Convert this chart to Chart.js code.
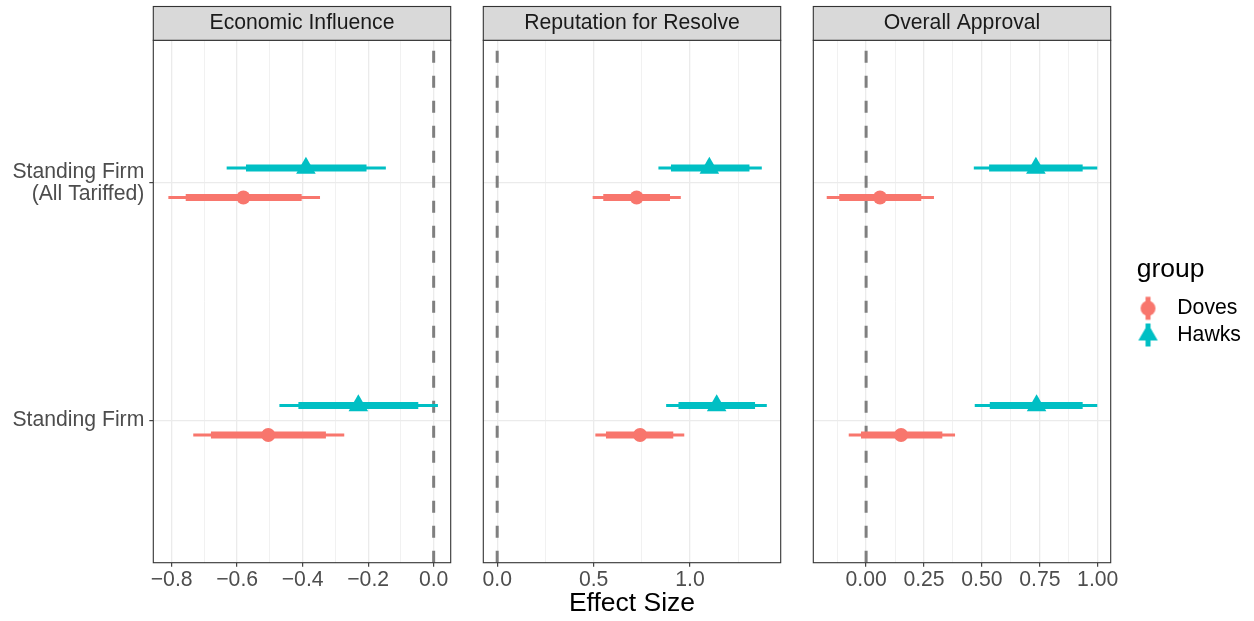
<!DOCTYPE html>
<html>
<head>
<meta charset="utf-8">
<script src="https://cdn.jsdelivr.net/npm/chart.js@4.4.1/dist/chart.umd.min.js"></script>
<style>
html,body{margin:0;padding:0;background:#fff;}
#wrap{position:relative;width:1254px;height:621px;overflow:hidden;background:#fff;}
#wrap canvas{position:absolute;top:0;}
</style>
</head>
<body>
<div id="wrap">
<canvas id="c1" width="470" height="621" style="left:0px"></canvas>
<canvas id="c2" width="330" height="621" style="left:470px"></canvas>
<canvas id="c3" width="1254" height="621" style="left:0px"></canvas>
</div>
<script>
// ---------------- DATA ----------------
const panelTitles = ["Economic Influence", "Reputation for Resolve", "Overall Approval"];
const categories = [["Standing Firm", "(All Tariffed)"], "Standing Firm"];
const categoryPos = [2, 1];
const groups = ["Doves", "Hawks"];
const groupColors = ["#F8766D", "#00BFC4"];
const xTitle = "Effect Size";
const legendTitle = "group";

// values indexed [panel][category]  (category order: Standing Firm (All Tariffed), Standing Firm)
const dovesEst  = [[-0.581, -0.505], [0.723, 0.741], [0.060, 0.151]];
const dovesLo90 = [[-0.757, -0.680], [0.550, 0.564], [-0.116, -0.022]];
const dovesHi90 = [[-0.403, -0.329], [0.896, 0.913], [0.238, 0.329]];
const dovesLo95 = [[-0.810, -0.734], [0.495, 0.509], [-0.170, -0.075]];
const dovesHi95 = [[-0.347, -0.273], [0.952, 0.970], [0.293, 0.384]];

const hawksEst  = [[-0.390, -0.230], [1.100, 1.138], [0.733, 0.736]];
const hawksLo90 = [[-0.573, -0.413], [0.901, 0.940], [0.531, 0.534]];
const hawksHi90 = [[-0.205, -0.047], [1.308, 1.337], [0.935, 0.935]];
const hawksLo95 = [[-0.632, -0.471], [0.836, 0.876], [0.465, 0.469]];
const hawksHi95 = [[-0.146, 0.013], [1.372, 1.398], [0.998, 0.998]];

const refLine = 0;

// axis ticks
const majorTicks  = [[-0.8, -0.6, -0.4, -0.2, 0.0], [0.0, 0.5, 1.0], [0.0, 0.25, 0.5, 0.75, 1.0]];
const majorLabels = [["\u22120.8", "\u22120.6", "\u22120.4", "\u22120.2", "0.0"], ["0.0", "0.5", "1.0"], ["0.00", "0.25", "0.50", "0.75", "1.00"]];
const minorTicks  = [[-0.7, -0.5, -0.3, -0.1], [0.25, 0.75, 1.25], [-0.125, 0.125, 0.375, 0.625, 0.875]];
const xLimits     = [[-0.856, 0.052], [-0.072, 1.470], [-0.228, 1.056]];
const yLimits     = [0.4, 2.6];

// ---------------- STYLE / LAYOUT ----------------
const FONT = '"Liberation Sans", Arial, Helvetica, sans-serif';
Chart.defaults.font.family = FONT;
const SMALL = 21.2;   // axis text, strip text, legend text
const BIG = 26.5;     // axis title, legend title
const dodge = 0.062;

// legend geometry
const LEG_PAD = 5.5;
const LEG_BOX = 24.5;
const legendLeft = 1136.7;
const gapAxisWidth = 26;
function legendWidth() {
  const c = document.createElement('canvas').getContext('2d');
  c.font = SMALL + 'px ' + FONT;
  const w = Math.max(...groups.map(g => c.measureText(g).width));
  return LEG_PAD + LEG_BOX + SMALL / 2 + w + 10;
}
const legW = legendWidth();

const geo = [
  {canvas: 'c1', padL: 0, padR: 19.3, yWidth: 153.3},
  {canvas: 'c2', padL: 13.3, padR: 19.3, yWidth: 0},
  {canvas: 'c3', padL: 0, padR: Math.max(0, 1254 - legendLeft - legW), yWidth: 813.3}
];

const stats = [
  {est: dovesEst, lo90: dovesLo90, hi90: dovesHi90, lo95: dovesLo95, hi95: dovesHi95},
  {est: hawksEst, lo90: hawksLo90, hi90: hawksHi90, lo95: hawksLo95, hi95: hawksHi95}
];
const pointStyles = ['circle', 'triangle'];
const pointRadii = [7, 11.3];

const panelDecor = {
  id: 'panelDecor',
  afterDraw(chart, args, opts) {
    const {ctx, chartArea: a} = chart;
    ctx.save();
    ctx.strokeStyle = '#333333';
    ctx.lineWidth = 1.1;
    ctx.strokeRect(a.left, a.top, a.right - a.left, a.bottom - a.top);
    const top = 6.5;
    ctx.fillStyle = '#d9d9d9';
    ctx.fillRect(a.left, top, a.right - a.left, a.top - top);
    ctx.strokeRect(a.left, top, a.right - a.left, a.top - top);
    ctx.fillStyle = '#1a1a1a';
    ctx.font = SMALL + 'px ' + FONT;
    ctx.textAlign = 'center';
    ctx.textBaseline = 'middle';
    ctx.fillText(opts.title, (a.left + a.right) / 2, (top + a.top) / 2);
    ctx.restore();
  }
};

function makeKey(gi) {
  const c = document.createElement('canvas');
  c.width = 40; c.height = 28;
  const k = c.getContext('2d');
  const cx = 13.55, cy = 14;
  k.strokeStyle = groupColors[gi];
  k.lineWidth = 5;
  k.beginPath(); k.moveTo(cx, cy - 11.5); k.lineTo(cx, cy + 11.5); k.stroke();
  k.fillStyle = groupColors[gi];
  Chart.helpers.drawPoint(k, {pointStyle: pointStyles[gi], radius: gi === 0 ? 7.5 : 11.2, borderWidth: 0, rotation: 0}, cx, cy);
  return c;
}
const legendKeys = groups.map((g, i) => makeKey(i));

const near = (a, b) => Math.abs(a - b) < 1e-6;

function buildDatasets(p) {
  const ds = [];
  ds.push({
    type: 'line', label: 'ref', data: [{x: refLine, y: yLimits[0]}, {x: refLine, y: yLimits[1]}],
    borderColor: '#7f7f7f', borderWidth: 3, borderDash: [12, 13], pointRadius: 0, showLine: true, order: 10
  });
  groups.forEach((g, gi) => {
    const S = stats[gi];
    const off = gi === 0 ? -dodge : dodge;
    const col = groupColors[gi];
    categoryPos.forEach((cp, ci) => {
      const y = cp + off;
      ds.push({type: 'line', label: g + ' 95', data: [{x: S.lo95[p][ci], y}, {x: S.hi95[p][ci], y}],
        borderColor: col, borderWidth: 3, pointRadius: 0, showLine: true, order: 5});
      ds.push({type: 'line', label: g + ' 90', data: [{x: S.lo90[p][ci], y}, {x: S.hi90[p][ci], y}],
        borderColor: col, borderWidth: 7, pointRadius: 0, showLine: true, order: 4});
    });
    ds.push({type: 'scatter', label: g, data: categoryPos.map((cp, ci) => ({x: S.est[p][ci], y: cp + off})),
      pointStyle: pointStyles[gi], pointRadius: pointRadii[gi], backgroundColor: col, borderWidth: 0, order: 1});
  });
  return ds;
}

function isMajor(p, v) { return majorTicks[p].some(t => near(t, v)); }

function makeChart(p) {
  const G = geo[p];
  const allTicks = majorTicks[p].concat(minorTicks[p]).sort((a, b) => a - b);
  const isLegend = p === 2;
  const scales = {
    x: {
      type: 'linear', min: xLimits[p][0], max: xLimits[p][1],
      afterBuildTicks: s => { s.ticks = allTicks.map(v => ({value: v})); },
      afterFit: s => { s.height = 58.3; },
      ticks: {
        autoSkip: false, maxRotation: 0, minRotation: 0, padding: 0.4, color: '#4d4d4d',
        font: {size: SMALL, family: FONT},
        callback: (v) => {
          const i = majorTicks[p].findIndex(t => near(t, v));
          return i >= 0 ? majorLabels[p][i] : '';
        }
      },
      grid: {
        color: '#ebebeb',
        lineWidth: c => (c.tick && isMajor(p, c.tick.value)) ? 1.3 : 0.7,
        tickLength: 4,
        tickWidth: 1.1,
        tickColor: c => (c.tick && isMajor(p, c.tick.value)) ? '#333333' : 'rgba(0,0,0,0)'
      },
      border: {display: false},
      title: p === 1 ? {display: true, text: xTitle, color: '#000000',
        font: {size: BIG, family: FONT}, padding: {top: 0, bottom: 1.6}} : {display: false}
    },
    y: {
      type: 'linear', min: yLimits[0], max: yLimits[1],
      afterBuildTicks: s => { s.ticks = categoryPos.map(v => ({value: v})); },
      afterFit: s => { s.width = G.yWidth; },
      ticks: {
        display: p === 0, padding: 5, color: '#4d4d4d',
        font: {size: SMALL, family: FONT, lineHeight: 1.03},
        callback: (v) => {
          const i = categoryPos.findIndex(c => near(c, v));
          return i >= 0 ? categories[i] : '';
        }
      },
      grid: {color: '#ebebeb', lineWidth: 1.3, drawTicks: p === 0, tickLength: 4, tickWidth: 1.1, tickColor: '#333333'},
      border: {display: false}
    }
  };
  if (isLegend) {
    // empty spacer between the panel and the legend
    scales.gap = {
      type: 'linear', position: 'right', min: 0, max: 1, display: true,
      afterFit: s => { s.width = gapAxisWidth; },
      ticks: {display: false}, grid: {display: false}, border: {display: false}
    };
  }
  return new Chart(document.getElementById(G.canvas), {
    type: 'scatter',
    data: {datasets: buildDatasets(p)},
    plugins: [panelDecor],
    options: {
      responsive: false,
      devicePixelRatio: 1,
      animation: false,
      events: [],
      layout: {padding: {left: G.padL, right: G.padR, top: 40.3, bottom: 0}},
      plugins: {
        panelDecor: {title: panelTitles[p]},
        tooltip: {enabled: false},
        legend: isLegend ? {
          display: true, position: 'right', align: 'start',
          title: {display: true, text: legendTitle, position: 'start', color: '#000000',
            font: {size: BIG, family: FONT}, padding: {top: 215.85, bottom: 4.25}},
          labels: {
            usePointStyle: true, pointStyleWidth: LEG_BOX, padding: LEG_PAD, color: '#000000',
            font: {size: SMALL, family: FONT},
            generateLabels: () => groups.map((g, i) => ({
              text: g, pointStyle: legendKeys[i], fillStyle: groupColors[i], strokeStyle: groupColors[i],
              lineWidth: 0, hidden: false, fontColor: '#000000', datasetIndex: i
            }))
          }
        } : {display: false}
      },
      scales: scales
    }
  });
}

[0, 1, 2].forEach(makeChart);
</script>
</body>
</html>
